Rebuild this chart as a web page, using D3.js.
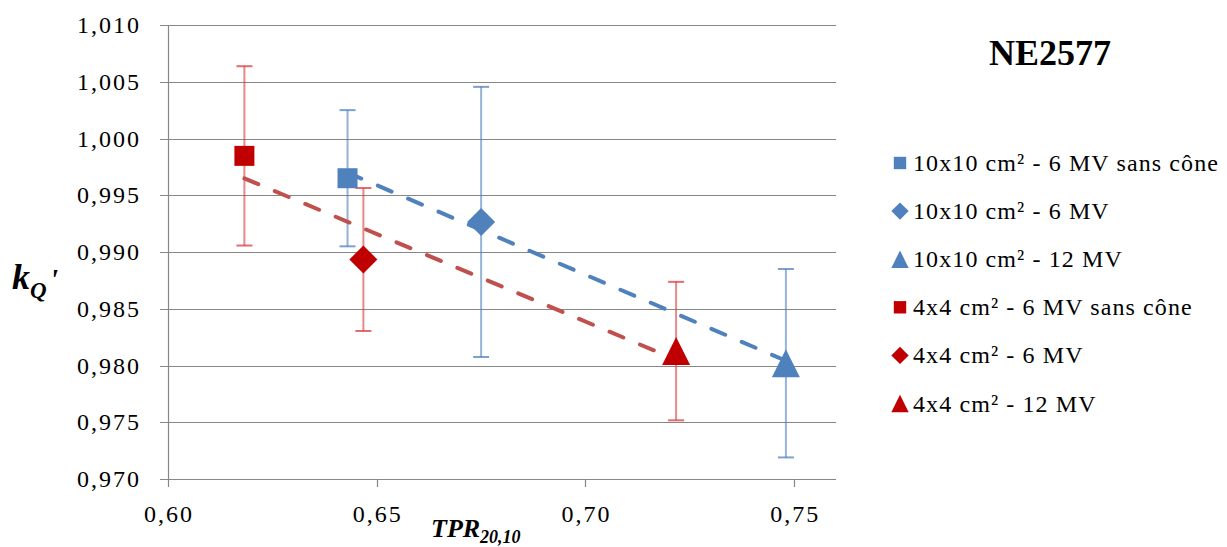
<!DOCTYPE html>
<html>
<head>
<meta charset="utf-8">
<script src="https://cdn.jsdelivr.net/npm/d3@7"></script>
<style>
  html, body { margin: 0; padding: 0; background: #fff; }
  svg { display: block; font-family: "Liberation Serif", Tinos, "Times New Roman", serif; }
</style>
</head>
<body>
<svg id="chart" width="1227" height="547"></svg>
<script>
// ---------- DATA ----------
const chartTitle = "NE2577";
const seriesNames = [
  "10x10 cm² - 6 MV sans cône",
  "10x10 cm² - 6 MV",
  "10x10 cm² - 12 MV",
  "4x4 cm² - 6 MV sans cône",
  "4x4 cm² - 6 MV",
  "4x4 cm² - 12 MV"
];
const fieldGroup = ["10x10", "10x10", "10x10", "4x4", "4x4", "4x4"];
const tprValues = [0.643, 0.675, 0.748, 0.6183, 0.6468, 0.7217];
const kqValues  = [0.9965, 0.99265, 0.9802, 0.99847, 0.98934, 0.98127];
const kqErrors  = [0.0060, 0.0119, 0.0083, 0.0079, 0.0063, 0.0061];
const xTicks = [0.60, 0.65, 0.70, 0.75];
const yTicks = [0.970, 0.975, 0.980, 0.985, 0.990, 0.995, 1.000, 1.005, 1.010];
const xDomain = [0.60, 0.76];
const yDomain = [0.970, 1.010];

// ---------- STYLE ----------
const groupStyle = {
  "10x10": { marker: "#4F81BD", err: "#4F81BD", trend: "#4F81BD" },
  "4x4":   { marker: "#C00000", err: "#D93B3B", trend: "#C0504D" }
};
const shapes = ["square", "diamond", "triangle", "square", "diamond", "triangle"];
const fmtComma = (d, n) => d.toFixed(n).replace(".", ",");
const SERIF = '"Liberation Serif", Tinos, "Times New Roman", serif';

const svg = d3.select("#chart");
svg.append("rect").attr("width", 1227).attr("height", 547).attr("fill", "#fff");

const pLeft = 168, pRight = 836, pTop = 25, pBottom = 479;
const x = d3.scaleLinear().domain(xDomain).range([pLeft, pRight]);
const y = d3.scaleLinear().domain(yDomain).range([pBottom, pTop]);

const axisColor = "#878787";

function label(sel, size, spacing) {
  return sel.attr("font-family", SERIF).style("font-family", SERIF)
    .style("font-size", size + "px").style("font-weight", "normal").style("font-style", "normal")
    .style("letter-spacing", spacing + "px").style("fill", "#000");
}

// gridlines + y ticks
svg.append("g").selectAll("line").data(yTicks).join("line")
  .attr("x1", pLeft - 8).attr("x2", pRight)
  .attr("y1", d => Math.round(y(d)) + 0.5).attr("y2", d => Math.round(y(d)) + 0.5)
  .attr("stroke", axisColor).attr("stroke-width", 1.2);

// y axis line
svg.append("line").attr("x1", pLeft + 0.5).attr("x2", pLeft + 0.5)
  .attr("y1", pTop).attr("y2", pBottom + 8)
  .attr("stroke", axisColor).attr("stroke-width", 1.2);

// x ticks
svg.append("g").selectAll("line").data(xTicks.slice(1)).join("line")
  .attr("x1", d => Math.round(x(d)) + 0.5).attr("x2", d => Math.round(x(d)) + 0.5)
  .attr("y1", pBottom).attr("y2", pBottom + 8)
  .attr("stroke", axisColor).attr("stroke-width", 1.2);

// y tick labels
label(svg.append("g").selectAll("text").data(yTicks).join("text"), 24, 2)
  .attr("x", 141).attr("y", d => y(d) + 8)
  .attr("text-anchor", "end")
  .text(d => fmtComma(d, 3));

// x tick labels
label(svg.append("g").selectAll("text").data(xTicks).join("text"), 24, 2)
  .attr("x", d => x(d) + 1).attr("y", 522)
  .attr("text-anchor", "middle")
  .text(d => fmtComma(d, 2));

// axis titles
const yt = svg.append("text").attr("x", 12).attr("y", 289)
  .style("font-family", SERIF).style("font-style", "italic").style("font-weight", "bold");
yt.append("tspan").style("font-size", "36px").text("k");
yt.append("tspan").style("font-size", "23px").attr("dy", 9).text("Q");
yt.append("tspan").style("font-size", "30px").attr("dy", -9).attr("dx", 3).text("'");

const xt = svg.append("text").attr("x", 431).attr("y", 537)
  .style("font-family", SERIF).style("font-style", "italic").style("font-weight", "bold");
xt.append("tspan").style("font-size", "26px").text("TPR");
xt.append("tspan").style("font-size", "18px").attr("dy", 6).text("20,10");

// data records
const pts = seriesNames.map((name, i) => ({
  name, group: fieldGroup[i], x: tprValues[i], y: kqValues[i], e: kqErrors[i], shape: shapes[i]
}));

// error bars
const eb = svg.append("g");
pts.forEach(p => {
  const c = groupStyle[p.group].err;
  const cx = x(p.x);
  eb.append("line").attr("x1", cx).attr("x2", cx).attr("y1", y(p.y + p.e)).attr("y2", y(p.y - p.e))
    .attr("stroke", c).attr("stroke-width", 2).attr("stroke-opacity", 0.6);
  [p.y + p.e, p.y - p.e].forEach(v => {
    eb.append("line").attr("x1", cx - 8).attr("x2", cx + 8).attr("y1", y(v)).attr("y2", y(v))
      .attr("stroke", c).attr("stroke-width", 2).attr("stroke-opacity", 0.75);
  });
});

// linear trendlines per group (least squares)
const tg = svg.append("g");
["4x4", "10x10"].forEach(g => {
  const gp = pts.filter(p => p.group === g);
  const mx = d3.mean(gp, p => p.x), my = d3.mean(gp, p => p.y);
  const sxy = d3.sum(gp, p => (p.x - mx) * (p.y - my));
  const sxx = d3.sum(gp, p => (p.x - mx) ** 2);
  const slope = sxy / sxx, icpt = my - slope * mx;
  const [x0, x1] = d3.extent(gp, p => p.x);
  tg.append("line")
    .attr("x1", x(x0)).attr("y1", y(icpt + slope * x0))
    .attr("x2", x(x1)).attr("y2", y(icpt + slope * x1))
    .attr("stroke", groupStyle[g].trend).attr("stroke-width", 4)
    .attr("stroke-dasharray", "15,18").attr("stroke-linecap", "round");
});

// markers
function symbolPath(shape, scale) {
  if (shape === "square") return d3.symbol(d3.symbolSquare, 400 * scale * scale)();
  if (shape === "diamond") {
    const r = 14 * scale;
    return `M0,${-r}L${r},0L0,${r}L${-r},0Z`;
  }
  const w = 14 * scale, h = 28 * scale;
  return `M0,${-h / 2}L${w},${h / 2}L${-w},${h / 2}Z`;
}
svg.append("g").selectAll("path").data(pts).join("path")
  .attr("transform", p => `translate(${x(p.x)},${y(p.y)})`)
  .attr("d", p => symbolPath(p.shape, 1))
  .attr("fill", p => groupStyle[p.group].marker);

// title
svg.append("text").attr("x", 1050).attr("y", 65)
  .attr("text-anchor", "middle")
  .style("font-family", SERIF).style("font-size", "36px").style("font-weight", "bold")
  .text(chartTitle);

// legend
const lg = svg.append("g");
pts.forEach((p, i) => {
  const cy = 163 + i * 48.1;
  lg.append("path").attr("transform", `translate(900,${cy})`)
    .attr("d", symbolPath(p.shape, 0.62))
    .attr("fill", groupStyle[p.group].marker);
  label(lg.append("text"), 24, 1.1).attr("x", 913).attr("y", cy + 8)
    .text(p.name);
});
</script>
</body>
</html>
